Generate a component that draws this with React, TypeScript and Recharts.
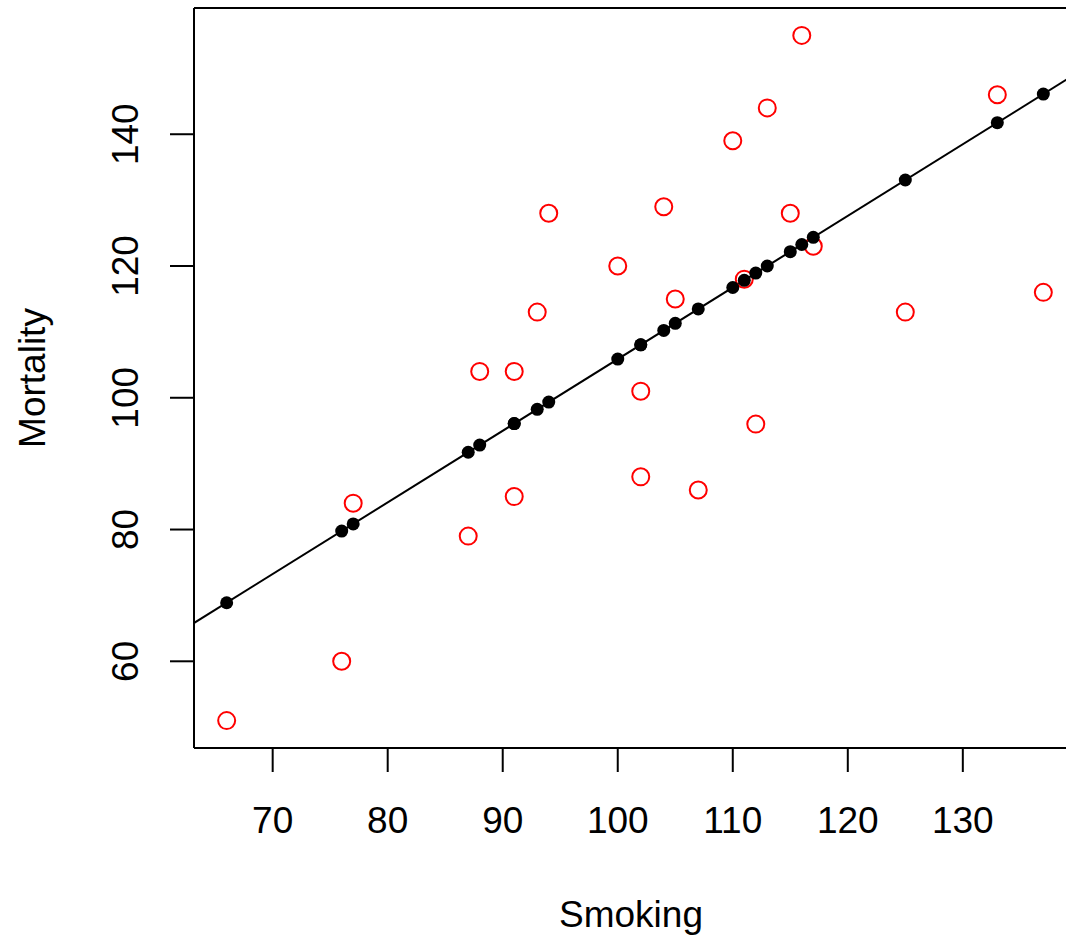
import React from 'react';
import { ComposedChart, Scatter, XAxis, YAxis, ReferenceLine } from 'recharts';

// occupational groups: smoking index vs mortality index
const smoking = [77, 137, 117, 94, 116, 102, 111, 93, 88, 102, 91, 104, 107, 112, 113, 110, 125, 133, 115, 105, 87, 91, 100, 76, 66];
const mortality = [84, 116, 123, 128, 155, 101, 118, 113, 104, 88, 104, 129, 86, 96, 144, 139, 113, 146, 128, 115, 79, 85, 120, 60, 51];
// fitted values from the regression line
const fitted = [80.85, 146.1, 124.35, 99.34, 123.26, 108.04, 117.83, 98.25, 92.82, 108.04, 96.08, 110.22, 113.48, 118.92, 120.0, 116.74, 133.05, 141.75, 122.18, 111.3, 91.73, 96.08, 105.87, 79.77, 68.89];

// regression line end points (drawn past the plot box, clipped)
const lineX = [60, 145];
const lineY = [62.37, 154.8];

const xTicks = [70, 80, 90, 100, 110, 120, 130];
const yTicks = [60, 80, 100, 120, 140];

const xDomain = [63.16, 139.84];
const yDomain = [46.84, 159.16];

const observed = smoking.map((s, i) => ({ x: s, y: mortality[i] }));
const predicted = smoking.map((s, i) => ({ x: s, y: fitted[i] }));

const FONT = '"Liberation Sans", Arial, Helvetica, sans-serif';
const FS = 37;

const XTick = (props: any) => (
  <text x={props.x} y={props.y} dy={59} textAnchor="middle" fontFamily={FONT} fontSize={FS} fill="#000">
    {props.payload.value}
  </text>
);

const YTick = (props: any) => {
  const x = props.x - 30;
  return (
    <text x={x} y={props.y} textAnchor="middle" transform={`rotate(-90, ${x}, ${props.y})`} fontFamily={FONT} fontSize={FS} fill="#000">
      {props.payload.value}
    </text>
  );
};

const OpenCircle = (props: any) => (
  <circle cx={props.cx} cy={props.cy} r={8.5} fill="none" stroke="#ff0000" strokeWidth={2} />
);

const Dot = (props: any) => <circle cx={props.cx} cy={props.cy} r={6.5} fill="#000" />;

export default function App() {
  return (
    <div style={{ position: 'absolute', left: 0, top: 0, width: 1066, height: 938, overflow: 'hidden', background: '#fff' }}>
      <ComposedChart width={1076} height={938} margin={{ top: 8, right: 0, bottom: 0, left: 0 }}>
        <XAxis
          type="number"
          dataKey="x"
          domain={xDomain}
          ticks={xTicks}
          allowDataOverflow
          height={190}
          tickSize={24}
          tickLine={{ stroke: '#000', strokeWidth: 2 }}
          axisLine={{ stroke: '#000', strokeWidth: 2 }}
          tick={<XTick />}
          label={{
            content: (p: any) => (
              <text x={p.viewBox.x + p.viewBox.width / 2 - 4} y={927} textAnchor="middle" fontFamily={FONT} fontSize={FS} fill="#000">
                Smoking
              </text>
            ),
          }}
        />
        <YAxis
          type="number"
          dataKey="y"
          domain={yDomain}
          ticks={yTicks}
          allowDataOverflow
          width={194}
          tickSize={24}
          tickLine={{ stroke: '#000', strokeWidth: 2 }}
          axisLine={{ stroke: '#000', strokeWidth: 2 }}
          tick={<YTick />}
          label={{
            content: (p: any) => {
              const cy = p.viewBox.y + p.viewBox.height / 2;
              return (
                <text x={45} y={cy} textAnchor="middle" transform={`rotate(-90, 45, ${cy})`} fontFamily={FONT} fontSize={FS} fill="#000">
                  Mortality
                </text>
              );
            },
          }}
        />
        {/* top edge of the plot box */}
        <ReferenceLine y={yDomain[1]} stroke="#000" strokeWidth={2} />
        <ReferenceLine
          segment={[
            { x: lineX[0], y: lineY[0] },
            { x: lineX[1], y: lineY[1] },
          ]}
          stroke="#000"
          strokeWidth={2}
          ifOverflow="hidden"
        />
        <Scatter data={observed} shape={<OpenCircle />} isAnimationActive={false} />
        <Scatter data={predicted} shape={<Dot />} isAnimationActive={false} />
      </ComposedChart>
    </div>
  );
}
